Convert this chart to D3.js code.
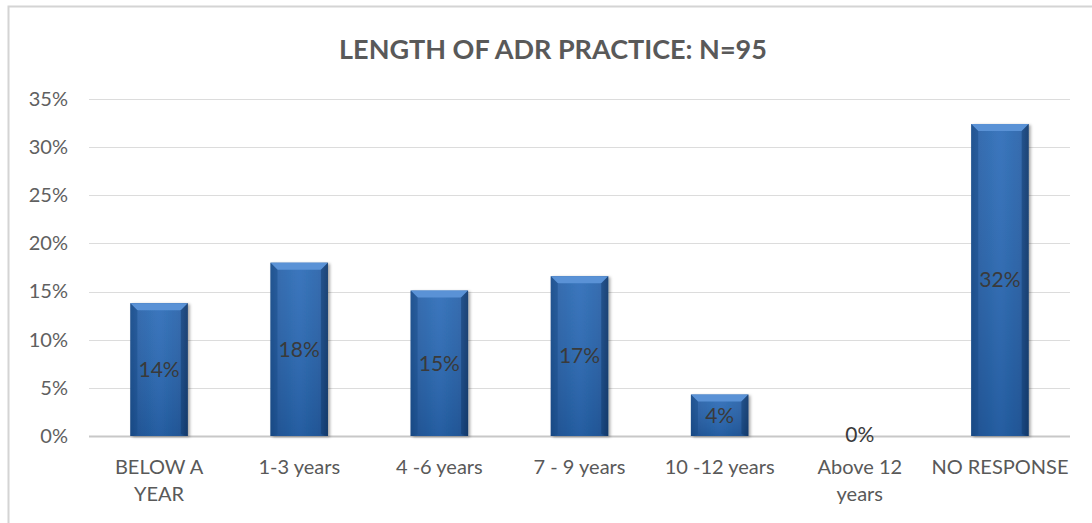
<!DOCTYPE html>
<html>
<head>
<meta charset="utf-8">
<script src="https://cdn.jsdelivr.net/npm/d3@7"></script>
<style>
  body { margin: 0; background: #fff; }
  svg { display: block; font-family: Lato, "Open Sans", sans-serif; }
</style>
</head>
<body>
<div id="chart"></div>
<script>
// values (percent of N=95)
const categories = ['BELOW A|YEAR', '1-3 years', '4 -6 years', '7 - 9 years', '10 -12 years', 'Above 12|years', 'NO RESPONSE'];
const shares = [13.8, 18.0, 15.1, 16.6, 4.3, 0, 32.4];
const yTicks = [0, 5, 10, 15, 20, 25, 30, 35];

const W = 1092, H = 523;
const margin = {top: 99, right: 22, bottom: 87, left: 89};
const width = W - margin.left - margin.right;
const height = H - margin.top - margin.bottom;

const svg = d3.select('#chart').append('svg')
    .attr('width', W)
    .attr('height', H);

// outer chart frame (runs off right/bottom edge)
svg.append('rect')
    .attr('x', 8.5).attr('y', 6.5)
    .attr('width', W + 10).attr('height', H + 10)
    .attr('fill', 'none')
    .attr('stroke', '#d4d4d4')
    .attr('stroke-width', 2);

const defs = svg.append('defs');
const grad = defs.append('linearGradient').attr('id', 'barGrad')
    .attr('x1', 0).attr('x2', 1).attr('y1', 0).attr('y2', 0);
grad.append('stop').attr('offset', '0%').attr('stop-color', '#1a4f8f');
grad.append('stop').attr('offset', '12%').attr('stop-color', '#2560a8');
grad.append('stop').attr('offset', '50%').attr('stop-color', '#2a6bb8');
grad.append('stop').attr('offset', '88%').attr('stop-color', '#2560a8');
grad.append('stop').attr('offset', '100%').attr('stop-color', '#173f75');

const vgrad = defs.append('linearGradient').attr('id', 'barShade')
    .attr('x1', 0).attr('x2', 0).attr('y1', 0).attr('y2', 1);
vgrad.append('stop').attr('offset', '0%').attr('stop-color', '#fff').attr('stop-opacity', 0.08);
vgrad.append('stop').attr('offset', '100%').attr('stop-color', '#000').attr('stop-opacity', 0.12);

const shadow = defs.append('filter').attr('id', 'shadow')
    .attr('x', '-20%').attr('y', '-5%').attr('width', '150%').attr('height', '115%');
shadow.append('feDropShadow')
    .attr('dx', 2).attr('dy', 1).attr('stdDeviation', 1.5)
    .attr('flood-color', '#000').attr('flood-opacity', 0.35);

svg.append('text')
    .attr('x', 553).attr('y', 59)
    .attr('text-anchor', 'middle')
    .attr('font-size', '27px')
    .attr('font-weight', 'bold')
    .attr('fill', '#595959')
    .text('LENGTH OF ADR PRACTICE: N=95');

const g = svg.append('g')
    .attr('transform', 'translate(' + margin.left + ',' + margin.top + ')');

const y = d3.scaleLinear().domain([0, 35]).range([height, 0]);
const x = d3.scaleBand().domain(categories).range([0, width])
    .paddingInner(0.59).paddingOuter(0.295);

// gridlines
g.append('g')
    .selectAll('line')
    .data(yTicks)
    .enter()
    .append('line')
    .attr('x1', 0).attr('x2', width)
    .attr('y1', d => Math.round(y(d)) + 0.5)
    .attr('y2', d => Math.round(y(d)) + 0.5)
    .attr('stroke', d => d === 0 ? '#c8c8c8' : '#dcdcdc')
    .attr('stroke-width', d => d === 0 ? 2 : 1);

const yAxis = d3.axisLeft(y)
    .tickValues(yTicks)
    .tickSize(0)
    .tickPadding(21)
    .tickFormat(d => d + '%');

g.append('g')
    .call(yAxis)
    .call(a => a.select('.domain').remove())
    .selectAll('text')
    .attr('font-size', '20px')
    .attr('fill', '#606060')
    .attr('font-family', 'Lato, "Open Sans", sans-serif');

const xAxis = d3.axisBottom(x).tickSize(0).tickFormat(() => '');
const xg = g.append('g')
    .attr('transform', 'translate(0,' + height + ')')
    .call(xAxis)
    .call(a => a.select('.domain').remove());

xg.selectAll('.tick').each(function(d) {
  const t = d3.select(this).append('text')
      .attr('text-anchor', 'middle')
      .attr('font-size', '20px')
      .attr('fill', '#595959')
      .attr('font-family', 'Lato, "Open Sans", sans-serif');
  d.split('|').forEach((line, i) => {
    t.append('tspan').attr('x', 0).attr('y', 38 + i * 27).text(line);
  });
});

const bars = g.selectAll('.bar')
    .data(categories.map((c, i) => ({cat: c, v: shares[i]})))
    .enter()
    .append('g')
    .attr('class', 'bar');

const drawn = bars.filter(d => d.v > 0);

drawn.append('rect')
    .attr('x', d => x(d.cat))
    .attr('y', d => y(d.v))
    .attr('width', x.bandwidth())
    .attr('height', d => height - y(d.v))
    .attr('fill', 'url(#barGrad)')
    .attr('filter', 'url(#shadow)');

drawn.append('rect')
    .attr('x', d => x(d.cat))
    .attr('y', d => y(d.v))
    .attr('width', x.bandwidth())
    .attr('height', d => height - y(d.v))
    .attr('fill', 'url(#barShade)');

// bevel at the top of each bar
drawn.append('path')
    .attr('d', d => {
      const x0 = x(d.cat), x1 = x0 + x.bandwidth(), y0 = y(d.v), b = 7;
      return 'M' + x0 + ',' + y0 + 'L' + x1 + ',' + y0 + 'L' + (x1 - b) + ',' + (y0 + b) +
          'L' + (x0 + b) + ',' + (y0 + b) + 'Z';
    })
    .attr('fill', '#5a92d6');

drawn.append('path')
    .attr('d', d => {
      const x0 = x(d.cat), y0 = y(d.v), b = 7;
      return 'M' + x0 + ',' + y0 + 'L' + (x0 + b) + ',' + (y0 + b) + 'L' + (x0 + b) + ',' + (height - 2) +
          'L' + x0 + ',' + height + 'Z';
    })
    .attr('fill', '#1a4c8a')
    .attr('opacity', 0.5);

drawn.append('path')
    .attr('d', d => {
      const x1 = x(d.cat) + x.bandwidth(), y0 = y(d.v), b = 7;
      return 'M' + x1 + ',' + y0 + 'L' + (x1 - b) + ',' + (y0 + b) + 'L' + (x1 - b) + ',' + (height - 2) +
          'L' + x1 + ',' + height + 'Z';
    })
    .attr('fill', '#123a6b')
    .attr('opacity', 0.5);

bars.append('text')
    .attr('x', d => x(d.cat) + x.bandwidth() / 2)
    .attr('y', d => d.v > 0 ? (y(d.v) + height) / 2 : height - 1)
    .attr('dy', '0.35em')
    .attr('text-anchor', 'middle')
    .attr('font-size', '21px')
    .attr('fill', '#3a3a3a')
    .text(d => Math.round(d.v) + '%');
</script>
</body>
</html>
